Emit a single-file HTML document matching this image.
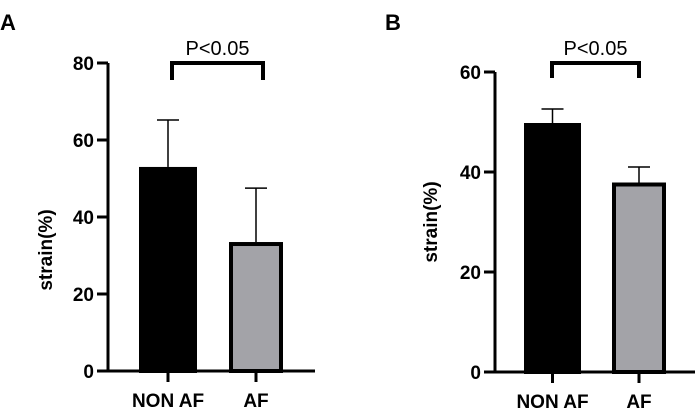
<!DOCTYPE html>
<html><head><meta charset="utf-8"><style>
html,body{margin:0;padding:0;background:#fff;width:698px;height:420px;overflow:hidden}
svg text{font-family:"Liberation Sans",Arial,sans-serif}
</style></head><body>
<svg id="c" width="698" height="420"></svg>
<script>
const categories=["NON AF","AF"];
const meansA=[53,33.5];
const errA=[65.2,47.5];
const ticksA=[0,20,40,60,80];
const meansB=[49.8,37.9];
const errB=[52.6,41];
const ticksB=[0,20,40,60];
const pText="P<0.05";
const NS="http://www.w3.org/2000/svg";
const svg=document.getElementById('c');
function mk(t,a,p,txt){const e=document.createElementNS(NS,t);for(const k in a)e.setAttribute(k,a[k]);if(txt!==undefined)e.textContent=txt;(p||svg).appendChild(e);return e;}
function panel(cfg){
 const g=mk('g',{});
 
 
 const y=v=>cfg.y0-(v/cfg.max)*(cfg.y0-cfg.yTop);
 const l=mk('text',{x:cfg.lx,y:30,'font-size':22,'font-weight':'bold'},g,cfg.letter);
 
 
 // bars
 cfg.means.forEach((m,i)=>{
  const [x0,x1]=cfg.bars[i];const cx=(x0+x1)/2;
  const eb=mk('line',{x1:cx,x2:cx,y1:y(cfg.err[i]),y2:y(m),stroke:'#000','stroke-width':1.5},g);
  
  
  const cap=mk('line',{x1:cx-11,x2:cx+11,y1:y(cfg.err[i]),y2:y(cfg.err[i]),stroke:'#000','stroke-width':1.5},g);
  
  
  const r=mk('rect',{x:x0+2,y:y(m)+2,width:x1-x0-4,height:cfg.y0-y(m)-2,fill:i==0?'#000':'#a3a3a8',stroke:'#000','stroke-width':4},g);
  
  
  const tk=mk('line',{x1:cx,x2:cx,y1:cfg.y0,y2:cfg.y0+11,stroke:'#000','stroke-width':3},g);
  
  
  const tl=mk('text',{x:cx,y:cfg.y0+36,'font-size':19,'font-weight':'bold','text-anchor':'middle'},g,categories[i]);
  
  
 });
 const ya=mk('line',{x1:cfg.ax,x2:cfg.ax,y1:y(cfg.max),y2:cfg.y0+1.5,stroke:'#000','stroke-width':3},g);
 
 
 const xa=mk('line',{x1:cfg.ax-11,x2:cfg.xEnd,y1:cfg.y0,y2:cfg.y0,stroke:'#000','stroke-width':3},g);
 
 
 cfg.ticks.forEach(t=>{
  const tl=mk('line',{x1:cfg.ax-11,x2:cfg.ax,y1:y(t),y2:y(t),stroke:'#000','stroke-width':3},g);
  
  
  const tx=mk('text',{x:cfg.ax-14,y:y(t)+7,'font-size':19,'font-weight':'bold','text-anchor':'end'},g,String(t));
  
  
 });
 const yt=mk('text',{x:0,y:0,'font-size':19,'font-weight':'bold','text-anchor':'middle',transform:`translate(${cfg.tx},${cfg.ty}) rotate(-90)`},g,'strain(%)');
 
 
 const [b0,b1,bt,bb]=cfg.bracket;
 const br=mk('polyline',{points:`${b0},${bb} ${b0},${bt} ${b1},${bt} ${b1},${bb}`,fill:'none',stroke:'#000','stroke-width':4},g);
 
 
 const pt=mk('text',{x:(b0+b1)/2,y:bt-8,'font-size':20,'text-anchor':'middle'},g,pText);
 
 
}
panel({name:'panel-a',letter:'A',lx:0,means:meansA,err:errA,ticks:ticksA,max:80,y0:371,yTop:63,ax:108,xEnd:315,bars:[[139,197],[229,283]],tx:52,ty:250,bracket:[172,263,63,80]});
panel({name:'panel-b',letter:'B',lx:385,means:meansB,err:errB,ticks:ticksB,max:60,y0:372,yTop:72,ax:495,xEnd:695,bars:[[524,581],[612,666]],tx:437,ty:222,bracket:[552,639,63,78]});
</script>
</body></html>
